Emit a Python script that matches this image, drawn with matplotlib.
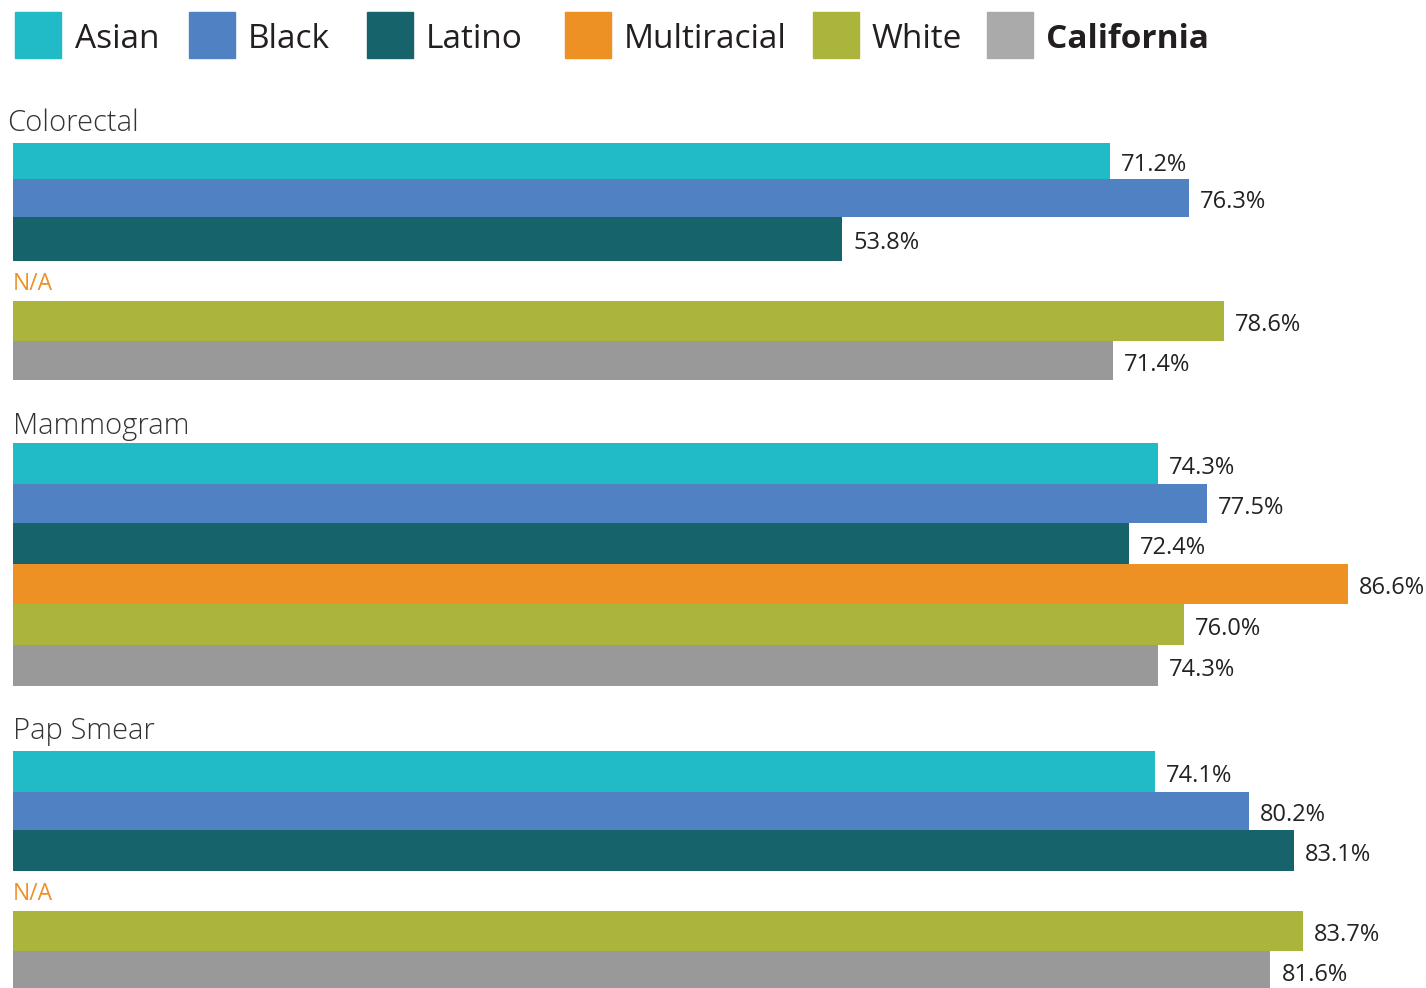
import matplotlib
matplotlib.use("Agg")
import matplotlib.pyplot as plt
from matplotlib.patches import Rectangle

# ---- data ----
groups = ["Colorectal", "Mammogram", "Pap Smear"]
series = ["Asian", "Black", "Latino", "Multiracial", "White", "California"]
colors = ["#20BBC7", "#5081C2", "#16636B", "#EE9124", "#ABB53B", "#999999"]
colorectal = [71.2, 76.3, 53.8, None, 78.6, 71.4]
mammogram = [74.3, 77.5, 72.4, 86.6, 76.0, 74.3]
pap_smear = [74.1, 80.2, 83.1, None, 83.7, 81.6]
values = [colorectal, mammogram, pap_smear]

# ---- layout (pixel rows, figure is 1426 x 988) ----
W, H = 1426, 988
slot_tops = [
    [143, 179, 217, 261, 301, 341, 380],
    [443, 484, 523, 564, 604, 645, 686],
    [751, 792, 830, 871, 911, 951, 991],
]
title_y = [123, 426, 731]
px_per_pct = 15.41
x0 = 13

FONT = "Open Sans"
fig = plt.figure(figsize=(W / 100, H / 100), dpi=100)
ax = fig.add_axes([0, 0, 1, 1])
ax.set_xlim(-x0 / px_per_pct, (W - x0) / px_per_pct)
ax.set_ylim(H, 0)
ax.axis("off")

for g, (gname, vals) in enumerate(zip(groups, values)):
    ax.text(-x0 / px_per_pct + (7 if g == 0 else 13) / px_per_pct, title_y[g], gname,
            fontsize=21, family=FONT, fontweight="light", color="#333333",
            va="center", ha="left")
    tops = slot_tops[g]
    for i, v in enumerate(vals):
        top, bot = tops[i], tops[i + 1]
        if v is None:
            ax.text(0, (top + bot) / 2 + 3, "N/A", fontsize=16.5, family=FONT,
                    color=colors[3], va="center", ha="left")
            continue
        ax.barh((top + bot) / 2, v, height=bot - top, left=0, color=colors[i],
                edgecolor="none")
        ax.text(v + 11 / px_per_pct, (top + bot) / 2 + 4, f"{v:.1f}%",
                fontsize=17, family=FONT, color="#222222", va="center", ha="left")

# ---- legend ----
leg_patch_x = [15, 189, 367, 565, 813, 987]
leg_text_x = [75, 248, 426, 624, 872, 1046]
for i, name in enumerate(series):
    fig.patches.append(Rectangle((leg_patch_x[i] / W, 1 - 58 / H), 46 / W, 46 / H,
                                 transform=fig.transFigure, color=colors[i] if i < 5 else "#AAAAAA"))
    fig.text(leg_text_x[i] / W, 1 - 39 / H, name, fontsize=24, family=FONT,
             fontweight="bold" if name == "California" else "normal",
             color="#231F20", va="center", ha="left")

fig.savefig("out.png", dpi=100)
